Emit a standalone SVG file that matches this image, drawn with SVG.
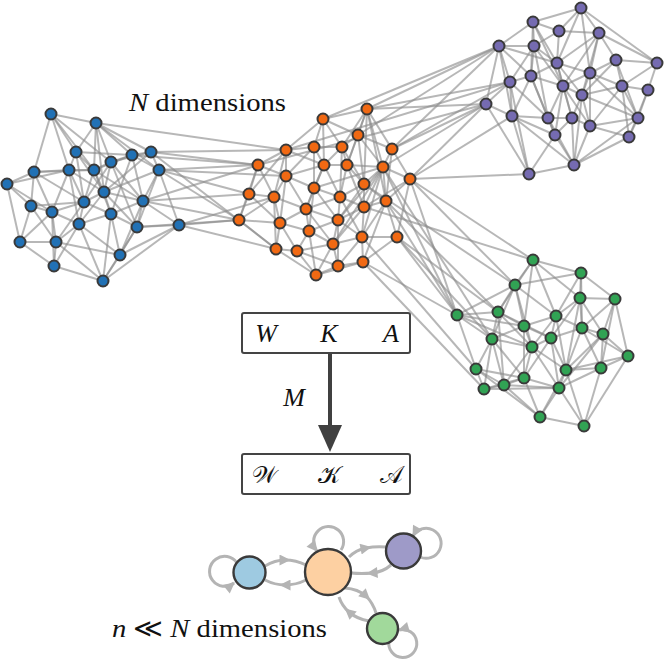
<svg xmlns="http://www.w3.org/2000/svg" width="665" height="661" viewBox="0 0 665 661">
<style>
.e path{stroke:#8a8a8a;stroke-opacity:0.62;stroke-width:2;fill:none}
.n circle{stroke:#3a3a3a;stroke-width:2}
.b circle{fill:#2171b5}.o circle{fill:#f16913}.p circle{fill:#756bb1}.g circle{fill:#31a354}
.box{fill:#fff;stroke:#444;stroke-width:2}
.sl{fill:none;stroke:#b4b4b4;stroke-width:3}
.sn{stroke:#3a3a3a;stroke-width:2.4}
</style>
<defs>
<marker id="ah" viewBox="0 0 10 10" refX="5" refY="5" markerWidth="13" markerHeight="11" markerUnits="userSpaceOnUse" orient="auto"><path d="M0 0L10 5L0 10z" fill="#b4b4b4"/></marker>
<marker id="ae" viewBox="0 0 10 10" refX="9" refY="5" markerWidth="13" markerHeight="11" markerUnits="userSpaceOnUse" orient="auto"><path d="M0 0L10 5L0 10z" fill="#b4b4b4"/></marker>
</defs>
<g id="connectors" class="e">
<path d="M51 114L96 123"/><path d="M51 114L76 152"/><path d="M51 114L34 172"/><path d="M51 114L69 170"/><path d="M51 114L94 170"/><path d="M51 114L111 162"/>
<path d="M96 123L76 152"/><path d="M96 123L111 162"/><path d="M96 123L132 155"/><path d="M96 123L94 170"/><path d="M96 123L151 152"/><path d="M96 123L104 192"/><path d="M96 123L159 170"/>
<path d="M76 152L69 170"/><path d="M76 152L94 170"/><path d="M76 152L132 155"/><path d="M76 152L104 192"/><path d="M76 152L84 202"/>
<path d="M132 155L151 152"/><path d="M132 155L111 162"/><path d="M132 155L159 170"/><path d="M132 155L143 201"/><path d="M132 155L94 170"/><path d="M132 155L111 214"/>
<path d="M151 152L159 170"/><path d="M151 152L111 162"/><path d="M151 152L104 192"/>
<path d="M111 162L94 170"/><path d="M111 162L104 192"/><path d="M111 162L143 201"/><path d="M111 162L84 202"/><path d="M111 162L137 227"/>
<path d="M34 172L69 170"/><path d="M34 172L7 184"/><path d="M34 172L31 206"/><path d="M34 172L84 202"/><path d="M34 172L52 212"/><path d="M34 172L94 170"/>
<path d="M69 170L94 170"/><path d="M69 170L84 202"/><path d="M69 170L52 212"/><path d="M69 170L104 192"/><path d="M69 170L79 224"/>
<path d="M94 170L104 192"/><path d="M94 170L84 202"/><path d="M94 170L111 214"/><path d="M94 170L143 201"/>
<path d="M159 170L143 201"/><path d="M159 170L104 192"/><path d="M159 170L137 227"/><path d="M159 170L179 225"/>
<path d="M7 184L31 206"/><path d="M7 184L20 242"/><path d="M7 184L52 212"/><path d="M7 184L69 170"/>
<path d="M104 192L84 202"/><path d="M104 192L111 214"/><path d="M104 192L143 201"/><path d="M104 192L79 224"/><path d="M104 192L137 227"/>
<path d="M143 201L111 214"/><path d="M143 201L137 227"/><path d="M143 201L179 225"/><path d="M143 201L120 255"/>
<path d="M31 206L52 212"/><path d="M31 206L20 242"/><path d="M31 206L56 242"/><path d="M31 206L84 202"/>
<path d="M84 202L52 212"/><path d="M84 202L79 224"/><path d="M84 202L111 214"/><path d="M84 202L56 242"/>
<path d="M52 212L79 224"/><path d="M52 212L56 242"/><path d="M52 212L20 242"/><path d="M52 212L54 266"/>
<path d="M111 214L79 224"/><path d="M111 214L137 227"/><path d="M111 214L120 255"/><path d="M111 214L103 281"/>
<path d="M79 224L56 242"/><path d="M79 224L120 255"/><path d="M79 224L54 266"/><path d="M79 224L103 281"/>
<path d="M137 227L179 225"/><path d="M137 227L120 255"/><path d="M137 227L103 281"/>
<path d="M179 225L120 255"/><path d="M179 225L103 281"/>
<path d="M20 242L56 242"/><path d="M20 242L54 266"/><path d="M56 242L54 266"/><path d="M56 242L103 281"/><path d="M56 242L120 255"/>
<path d="M120 255L103 281"/><path d="M54 266L103 281"/>
<path d="M367 109L323 119"/><path d="M367 109L358 135"/><path d="M367 109L342 147"/><path d="M367 109L383 167"/><path d="M367 109L347 165"/><path d="M367 109L364 184"/><path d="M367 109L392 149"/><path d="M367 109L386 201"/>
<path d="M323 119L286 150"/><path d="M323 119L314 147"/><path d="M323 119L324 165"/><path d="M323 119L358 135"/><path d="M323 119L342 147"/>
<path d="M358 135L342 147"/><path d="M358 135L347 165"/><path d="M358 135L383 167"/><path d="M358 135L392 149"/><path d="M358 135L364 184"/>
<path d="M286 150L314 147"/><path d="M286 150L258 165"/><path d="M286 150L286 176"/><path d="M286 150L324 165"/><path d="M286 150L249 194"/><path d="M286 150L274 197"/>
<path d="M314 147L324 165"/><path d="M314 147L342 147"/><path d="M314 147L286 176"/><path d="M314 147L314 188"/>
<path d="M342 147L347 165"/><path d="M342 147L324 165"/><path d="M342 147L340 197"/><path d="M342 147L364 184"/>
<path d="M392 149L383 167"/><path d="M392 149L410 179"/><path d="M392 149L386 201"/>
<path d="M258 165L286 176"/><path d="M258 165L249 194"/><path d="M258 165L274 197"/><path d="M258 165L239 220"/>
<path d="M324 165L347 165"/><path d="M324 165L314 188"/><path d="M324 165L340 197"/><path d="M324 165L286 176"/><path d="M324 165L306 209"/>
<path d="M347 165L383 167"/><path d="M347 165L364 184"/><path d="M347 165L340 197"/><path d="M347 165L364 207"/>
<path d="M383 167L410 179"/><path d="M383 167L364 184"/><path d="M383 167L386 201"/><path d="M383 167L364 207"/><path d="M383 167L338 220"/><path d="M383 167L362 237"/><path d="M383 167L333 244"/><path d="M383 167L314 188"/>
<path d="M286 176L314 188"/><path d="M286 176L274 197"/><path d="M286 176L306 209"/><path d="M286 176L280 223"/>
<path d="M410 179L386 201"/><path d="M410 179L397 237"/><path d="M410 179L364 207"/>
<path d="M364 184L340 197"/><path d="M364 184L386 201"/><path d="M364 184L364 207"/><path d="M364 184L338 220"/>
<path d="M314 188L340 197"/><path d="M314 188L306 209"/><path d="M314 188L338 220"/><path d="M314 188L309 231"/>
<path d="M249 194L274 197"/><path d="M249 194L239 220"/><path d="M249 194L280 223"/>
<path d="M274 197L239 220"/><path d="M274 197L280 223"/><path d="M274 197L306 209"/><path d="M274 197L276 249"/>
<path d="M340 197L364 207"/><path d="M340 197L338 220"/><path d="M340 197L362 237"/><path d="M340 197L306 209"/>
<path d="M386 201L364 207"/><path d="M386 201L397 237"/><path d="M386 201L362 237"/><path d="M386 201L363 262"/>
<path d="M364 207L338 220"/><path d="M364 207L362 237"/><path d="M364 207L333 244"/>
<path d="M306 209L338 220"/><path d="M306 209L309 231"/><path d="M306 209L280 223"/><path d="M306 209L333 244"/>
<path d="M239 220L280 223"/><path d="M239 220L276 249"/>
<path d="M280 223L309 231"/><path d="M280 223L276 249"/><path d="M280 223L297 251"/>
<path d="M338 220L309 231"/><path d="M338 220L333 244"/><path d="M338 220L362 237"/><path d="M338 220L338 266"/>
<path d="M309 231L333 244"/><path d="M309 231L297 251"/><path d="M309 231L316 275"/>
<path d="M362 237L397 237"/><path d="M362 237L363 262"/><path d="M362 237L333 244"/><path d="M362 237L338 266"/>
<path d="M397 237L363 262"/>
<path d="M333 244L338 266"/><path d="M333 244L316 275"/><path d="M333 244L297 251"/>
<path d="M276 249L297 251"/><path d="M276 249L316 275"/><path d="M297 251L316 275"/><path d="M297 251L338 266"/>
<path d="M338 266L363 262"/><path d="M338 266L316 275"/><path d="M363 262L316 275"/>
<path d="M581 8L533 22"/><path d="M581 8L599 33"/><path d="M581 8L559 31"/><path d="M581 8L557 63"/><path d="M581 8L590 73"/><path d="M581 8L657 63"/>
<path d="M533 22L499 46"/><path d="M533 22L534 46"/><path d="M533 22L559 31"/><path d="M533 22L557 63"/><path d="M533 22L531 76"/><path d="M533 22L563 86"/>
<path d="M559 31L599 33"/><path d="M559 31L557 63"/><path d="M559 31L534 46"/>
<path d="M599 33L616 60"/><path d="M599 33L657 63"/><path d="M599 33L590 73"/><path d="M599 33L557 63"/><path d="M599 33L563 86"/><path d="M599 33L582 95"/>
<path d="M499 46L534 46"/><path d="M499 46L510 82"/><path d="M499 46L531 76"/><path d="M499 46L486 104"/><path d="M499 46L557 63"/><path d="M499 46L512 116"/>
<path d="M534 46L557 63"/><path d="M534 46L531 76"/><path d="M534 46L510 82"/><path d="M534 46L563 86"/><path d="M534 46L548 118"/>
<path d="M616 60L657 63"/><path d="M616 60L590 73"/><path d="M616 60L622 86"/><path d="M616 60L582 95"/><path d="M616 60L638 118"/>
<path d="M657 63L648 90"/><path d="M657 63L622 86"/>
<path d="M557 63L590 73"/><path d="M557 63L531 76"/><path d="M557 63L563 86"/><path d="M557 63L582 95"/><path d="M557 63L572 118"/>
<path d="M590 73L622 86"/><path d="M590 73L582 95"/><path d="M590 73L563 86"/><path d="M590 73L590 126"/><path d="M590 73L638 118"/>
<path d="M531 76L510 82"/><path d="M531 76L563 86"/><path d="M531 76L512 116"/><path d="M531 76L548 118"/><path d="M531 76L555 135"/>
<path d="M510 82L486 104"/><path d="M510 82L512 116"/><path d="M510 82L548 118"/><path d="M510 82L529 174"/>
<path d="M563 86L582 95"/><path d="M563 86L548 118"/><path d="M563 86L572 118"/><path d="M563 86L590 126"/><path d="M563 86L555 135"/>
<path d="M622 86L648 90"/><path d="M622 86L638 118"/><path d="M622 86L629 137"/><path d="M622 86L582 95"/><path d="M622 86L590 126"/>
<path d="M648 90L638 118"/><path d="M648 90L629 137"/>
<path d="M582 95L572 118"/><path d="M582 95L590 126"/><path d="M582 95L574 165"/><path d="M582 95L638 118"/>
<path d="M486 104L512 116"/><path d="M486 104L529 174"/>
<path d="M512 116L548 118"/><path d="M512 116L529 174"/><path d="M512 116L555 135"/><path d="M512 116L574 165"/>
<path d="M548 118L572 118"/><path d="M548 118L555 135"/><path d="M548 118L574 165"/>
<path d="M572 118L590 126"/><path d="M572 118L555 135"/><path d="M572 118L574 165"/>
<path d="M638 118L629 137"/><path d="M638 118L590 126"/><path d="M638 118L574 165"/>
<path d="M590 126L629 137"/><path d="M590 126L574 165"/>
<path d="M555 135L574 165"/><path d="M555 135L529 174"/><path d="M574 165L529 174"/><path d="M629 137L574 165"/>
<path d="M533 260L581 273"/><path d="M533 260L515 285"/><path d="M533 260L580 298"/><path d="M533 260L556 316"/><path d="M533 260L524 326"/><path d="M533 260L498 312"/>
<path d="M581 273L580 298"/><path d="M581 273L615 299"/><path d="M581 273L556 316"/><path d="M581 273L582 328"/><path d="M581 273L515 285"/>
<path d="M515 285L498 312"/><path d="M515 285L457 315"/><path d="M515 285L524 326"/><path d="M515 285L492 339"/><path d="M515 285L532 347"/><path d="M515 285L556 316"/>
<path d="M580 298L615 299"/><path d="M580 298L556 316"/><path d="M580 298L582 328"/><path d="M580 298L603 334"/><path d="M580 298L551 338"/><path d="M580 298L566 370"/>
<path d="M615 299L603 334"/><path d="M615 299L628 356"/><path d="M615 299L582 328"/><path d="M615 299L601 368"/>
<path d="M457 315L498 312"/><path d="M457 315L492 339"/><path d="M457 315L476 369"/><path d="M457 315L524 326"/><path d="M457 315L532 347"/>
<path d="M498 312L524 326"/><path d="M498 312L492 339"/><path d="M498 312L532 347"/><path d="M498 312L551 338"/><path d="M498 312L504 385"/>
<path d="M556 316L524 326"/><path d="M556 316L551 338"/><path d="M556 316L582 328"/><path d="M556 316L532 347"/><path d="M556 316L566 370"/>
<path d="M524 326L551 338"/><path d="M524 326L532 347"/><path d="M524 326L492 339"/><path d="M524 326L524 378"/>
<path d="M582 328L603 334"/><path d="M582 328L551 338"/><path d="M582 328L566 370"/><path d="M582 328L601 368"/><path d="M582 328L628 356"/>
<path d="M603 334L628 356"/><path d="M603 334L601 368"/><path d="M603 334L566 370"/><path d="M603 334L559 388"/>
<path d="M492 339L532 347"/><path d="M492 339L476 369"/><path d="M492 339L524 378"/><path d="M492 339L504 385"/><path d="M492 339L484 389"/>
<path d="M551 338L532 347"/><path d="M551 338L566 370"/><path d="M551 338L559 388"/><path d="M551 338L524 378"/>
<path d="M532 347L524 378"/><path d="M532 347L566 370"/><path d="M532 347L559 388"/><path d="M532 347L504 385"/>
<path d="M628 356L601 368"/><path d="M628 356L584 426"/><path d="M628 356L566 370"/>
<path d="M476 369L484 389"/><path d="M476 369L504 385"/><path d="M476 369L524 378"/><path d="M476 369L540 417"/>
<path d="M566 370L601 368"/><path d="M566 370L559 388"/><path d="M566 370L584 426"/><path d="M566 370L540 417"/>
<path d="M601 368L559 388"/><path d="M601 368L584 426"/>
<path d="M524 378L504 385"/><path d="M524 378L559 388"/><path d="M524 378L540 417"/><path d="M524 378L484 389"/>
<path d="M504 385L484 389"/><path d="M504 385L559 388"/><path d="M504 385L540 417"/>
<path d="M484 389L559 388"/><path d="M559 388L540 417"/><path d="M559 388L584 426"/><path d="M540 417L584 426"/>
<path d="M96 123L286 150"/><path d="M151 152L258 165"/><path d="M151 152L286 150"/><path d="M159 170L258 165"/><path d="M159 170L249 194"/><path d="M143 201L249 194"/><path d="M143 201L239 220"/><path d="M179 225L239 220"/><path d="M179 225L274 197"/><path d="M132 155L258 165"/><path d="M159 170L286 176"/><path d="M151 152L276 249"/><path d="M137 227L239 220"/><path d="M179 225L276 249"/><path d="M143 201L258 165"/><path d="M159 170L239 220"/>
<path d="M367 109L499 46"/><path d="M367 109L486 104"/><path d="M367 109L510 82"/><path d="M392 149L486 104"/><path d="M392 149L499 46"/><path d="M392 149L510 82"/><path d="M410 179L486 104"/><path d="M410 179L529 174"/><path d="M410 179L512 116"/><path d="M358 135L499 46"/><path d="M383 167L486 104"/><path d="M323 119L499 46"/><path d="M286 150L510 82"/><path d="M258 165L486 104"/>
<path d="M383 167L457 315"/><path d="M410 179L457 315"/><path d="M386 201L457 315"/><path d="M397 237L457 315"/><path d="M397 237L492 339"/><path d="M386 201L498 312"/><path d="M410 179L515 285"/><path d="M363 262L457 315"/><path d="M362 237L476 369"/><path d="M364 207L533 260"/><path d="M364 184L515 285"/><path d="M397 237L498 312"/><path d="M383 167L492 339"/><path d="M410 179L533 260"/><path d="M363 262L484 389"/>
</g>
<g id="blue-nodes" class="n b">
<circle cx="51" cy="114" r="5.5"/><circle cx="96" cy="123" r="5.5"/><circle cx="76" cy="152" r="5.5"/><circle cx="132" cy="155" r="5.5"/><circle cx="151" cy="152" r="5.5"/><circle cx="111" cy="162" r="5.5"/><circle cx="34" cy="172" r="5.5"/><circle cx="69" cy="170" r="5.5"/><circle cx="94" cy="170" r="5.5"/><circle cx="159" cy="170" r="5.5"/><circle cx="7" cy="184" r="5.5"/><circle cx="104" cy="192" r="5.5"/><circle cx="143" cy="201" r="5.5"/><circle cx="31" cy="206" r="5.5"/><circle cx="84" cy="202" r="5.5"/><circle cx="52" cy="212" r="5.5"/><circle cx="111" cy="214" r="5.5"/><circle cx="79" cy="224" r="5.5"/><circle cx="137" cy="227" r="5.5"/><circle cx="179" cy="225" r="5.5"/><circle cx="20" cy="242" r="5.5"/><circle cx="56" cy="242" r="5.5"/><circle cx="120" cy="255" r="5.5"/><circle cx="54" cy="266" r="5.5"/><circle cx="103" cy="281" r="5.5"/>
</g>
<g id="orange-nodes" class="n o">
<circle cx="367" cy="109" r="5.5"/><circle cx="323" cy="119" r="5.5"/><circle cx="358" cy="135" r="5.5"/><circle cx="286" cy="150" r="5.5"/><circle cx="314" cy="147" r="5.5"/><circle cx="342" cy="147" r="5.5"/><circle cx="392" cy="149" r="5.5"/><circle cx="258" cy="165" r="5.5"/><circle cx="324" cy="165" r="5.5"/><circle cx="347" cy="165" r="5.5"/><circle cx="383" cy="167" r="5.5"/><circle cx="286" cy="176" r="5.5"/><circle cx="410" cy="179" r="5.5"/><circle cx="364" cy="184" r="5.5"/><circle cx="314" cy="188" r="5.5"/><circle cx="249" cy="194" r="5.5"/><circle cx="274" cy="197" r="5.5"/><circle cx="340" cy="197" r="5.5"/><circle cx="386" cy="201" r="5.5"/><circle cx="364" cy="207" r="5.5"/><circle cx="306" cy="209" r="5.5"/><circle cx="239" cy="220" r="5.5"/><circle cx="280" cy="223" r="5.5"/><circle cx="338" cy="220" r="5.5"/><circle cx="309" cy="231" r="5.5"/><circle cx="362" cy="237" r="5.5"/><circle cx="397" cy="237" r="5.5"/><circle cx="333" cy="244" r="5.5"/><circle cx="276" cy="249" r="5.5"/><circle cx="297" cy="251" r="5.5"/><circle cx="338" cy="266" r="5.5"/><circle cx="363" cy="262" r="5.5"/><circle cx="316" cy="275" r="5.5"/>
</g>
<g id="purple-nodes" class="n p">
<circle cx="581" cy="8" r="5.5"/><circle cx="533" cy="22" r="5.5"/><circle cx="559" cy="31" r="5.5"/><circle cx="599" cy="33" r="5.5"/><circle cx="499" cy="46" r="5.5"/><circle cx="534" cy="46" r="5.5"/><circle cx="616" cy="60" r="5.5"/><circle cx="657" cy="63" r="5.5"/><circle cx="557" cy="63" r="5.5"/><circle cx="590" cy="73" r="5.5"/><circle cx="531" cy="76" r="5.5"/><circle cx="510" cy="82" r="5.5"/><circle cx="563" cy="86" r="5.5"/><circle cx="622" cy="86" r="5.5"/><circle cx="648" cy="90" r="5.5"/><circle cx="582" cy="95" r="5.5"/><circle cx="486" cy="104" r="5.5"/><circle cx="512" cy="116" r="5.5"/><circle cx="548" cy="118" r="5.5"/><circle cx="572" cy="118" r="5.5"/><circle cx="638" cy="118" r="5.5"/><circle cx="590" cy="126" r="5.5"/><circle cx="555" cy="135" r="5.5"/><circle cx="629" cy="137" r="5.5"/><circle cx="574" cy="165" r="5.5"/><circle cx="529" cy="174" r="5.5"/>
</g>
<g id="green-nodes" class="n g">
<circle cx="533" cy="260" r="5.5"/><circle cx="581" cy="273" r="5.5"/><circle cx="515" cy="285" r="5.5"/><circle cx="580" cy="298" r="5.5"/><circle cx="615" cy="299" r="5.5"/><circle cx="457" cy="315" r="5.5"/><circle cx="498" cy="312" r="5.5"/><circle cx="556" cy="316" r="5.5"/><circle cx="524" cy="326" r="5.5"/><circle cx="582" cy="328" r="5.5"/><circle cx="603" cy="334" r="5.5"/><circle cx="492" cy="339" r="5.5"/><circle cx="551" cy="338" r="5.5"/><circle cx="532" cy="347" r="5.5"/><circle cx="628" cy="356" r="5.5"/><circle cx="476" cy="369" r="5.5"/><circle cx="566" cy="370" r="5.5"/><circle cx="601" cy="368" r="5.5"/><circle cx="524" cy="378" r="5.5"/><circle cx="504" cy="385" r="5.5"/><circle cx="484" cy="389" r="5.5"/><circle cx="559" cy="388" r="5.5"/><circle cx="540" cy="417" r="5.5"/><circle cx="584" cy="426" r="5.5"/>
</g>
<text id="label-N" x="129" y="111" font-family="'Liberation Serif','Times New Roman','DejaVu Serif',serif" font-size="26" fill="#111" textLength="157" lengthAdjust="spacingAndGlyphs"><tspan font-style="italic">N</tspan> dimensions</text>
<g id="box-top">
<rect class="box" x="242" y="313" width="168" height="40" rx="2"/>
<text font-family="'Liberation Serif','Times New Roman','DejaVu Serif',serif" font-style="italic" font-size="26" fill="#111" text-anchor="middle" y="342"><tspan x="266">W</tspan><tspan x="329">K</tspan><tspan x="391">A</tspan></text>
</g>
<g id="arrow-M">
<line x1="330" y1="354" x2="330" y2="427" stroke="#404040" stroke-width="4"/>
<path d="M318 425L342 425L330 452z" fill="#404040"/>
<text font-family="'Liberation Serif','Times New Roman','DejaVu Serif',serif" font-style="italic" font-size="26" fill="#111" x="294" y="406" text-anchor="middle">M</text>
</g>
<g id="box-bottom">
<rect class="box" x="242" y="454" width="168" height="40" rx="2"/>
<text font-family="'DejaVu Serif','DejaVu Sans','Noto Sans',serif" font-size="24" fill="#111" text-anchor="middle" y="483"><tspan x="264">𝒲</tspan><tspan x="329">𝒦</tspan><tspan x="391">𝒜</tspan></text>
</g>
<g id="reduced-connectors">
<path class="sl" d="M265 566Q275 560 285 560Q296 560 306 565" marker-mid="url(#ah)"/>
<path class="sl" d="M306 580Q296 585 285 585Q275 585 265 580" marker-mid="url(#ah)"/>
<path class="sl" d="M237 563A15 15 0 1 0 234 583" marker-end="url(#ae)"/>
<path class="sl" d="M341 550A15 15 0 1 0 317 551" marker-end="url(#ae)"/>
<path class="sl" d="M349 557Q356 550 366 548Q376 546 386 547" marker-mid="url(#ah)"/>
<path class="sl" d="M391 565Q383 572 372 573Q362 574 351 573" marker-mid="url(#ah)"/>
<path class="sl" d="M420 557A15 15 0 1 0 413 536" marker-end="url(#ae)"/>
<path class="sl" d="M345 588Q358 589 366 596Q373 603 376 613" marker-mid="url(#ah)"/>
<path class="sl" d="M369 621Q357 619 349 612Q342 606 339 597" marker-mid="url(#ah)"/>
<path class="sl" d="M389 641A14 14 0 1 0 399 630" marker-end="url(#ae)"/>
</g>
<g id="node-blue"><circle class="sn" cx="249.5" cy="572.5" r="16" fill="#9ecae1"/></g>
<g id="node-orange"><circle class="sn" cx="328" cy="572" r="23" fill="#fdd0a2"/></g>
<g id="node-purple"><circle class="sn" cx="403.5" cy="551" r="17.5" fill="#9e9ac8"/></g>
<g id="node-green"><circle class="sn" cx="382.5" cy="628.5" r="15.5" fill="#a1d99b"/></g>
<text id="label-n" x="112" y="637" font-family="'Liberation Serif','Times New Roman','DejaVu Serif',serif" font-size="26" fill="#111" textLength="215" lengthAdjust="spacingAndGlyphs"><tspan font-style="italic">n</tspan> ≪ <tspan font-style="italic">N</tspan> dimensions</text>
</svg>
